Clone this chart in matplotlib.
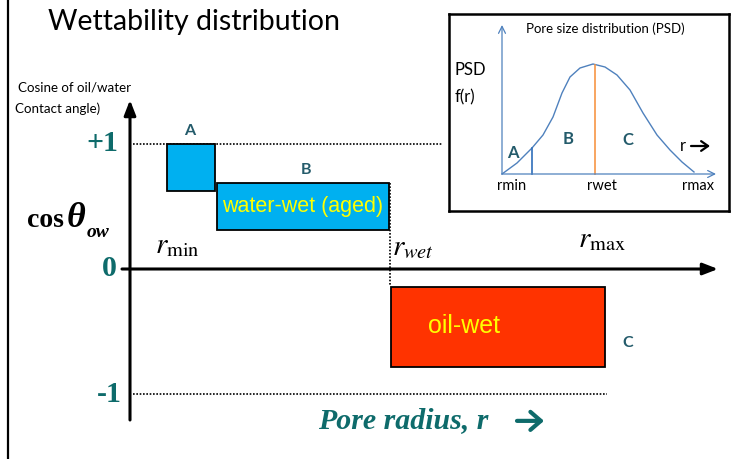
import matplotlib
matplotlib.use("Agg")
import matplotlib.pyplot as plt
from matplotlib.patches import Rectangle
from matplotlib.lines import Line2D

plt.rcParams["mathtext.fontset"] = "stix"

# ── wettability boxes: pore radius range and cos(theta_ow) range ──
box_names  = ["A", "B", "C"]
box_r_lo   = [0.37, 0.87, 2.61]
box_r_hi   = [0.85, 2.59, 4.75]
box_cos_lo = [0.62, 0.31, -0.78]
box_cos_hi = [1.00, 0.69, -0.14]
box_texts  = ["", "water-wet (aged)", "oil-wet"]

y_ticks       = [1, 0, -1]
y_tick_labels = ["+1", "0", "-1"]

r_wet = 2.60

# ── pore size distribution (inset) ──
psd_r = [0.00, 0.15, 0.30, 0.41, 0.51, 0.60, 0.68, 0.78, 0.91,
         1.03, 1.15, 1.28, 1.41, 1.55, 1.68, 1.80, 1.92]
psd_f = [0.00, 0.11, 0.26, 0.39, 0.57, 0.81, 0.97, 1.06, 1.10,
         1.07, 0.99, 0.84, 0.61, 0.39, 0.24, 0.12, 0.02]
psd_r_ab  = 0.30
psd_r_wet = 0.93
psd_ticks = ["rmin", "rwet", "rmax"]
psd_tick_pos = [0.10, 1.00, 1.96]

W, H = 733, 459
TEAL   = "#0E6B6B"
SLATE  = "#245B6B"
CALIB  = "Lato"


def px(x, y):
    return x / W, 1 - y / H


fig = plt.figure(figsize=(W / 100, H / 100), dpi=100)

# slide border line on the left
fig.add_artist(Line2D([8 / W, 8 / W], [0, 1], color="k", lw=1.6,
                      transform=fig.transFigure))
fig.text(*px(48, 22), "Wettability distribution", fontsize=20.5,
         family=CALIB, ha="left", va="center")
fig.text(*px(18, 88), "Cosine of oil/water", fontsize=9.6, family=CALIB,
         ha="left", va="center")
fig.text(*px(15, 109), "Contact angle)", fontsize=9.6, family=CALIB,
         ha="left", va="center")

# ── main diagram ──
ax = fig.add_axes([122 / W, 1 - 420 / H, 596 / W, 320 / H])
ax.set_xlim(-0.08, 5.88)
ax.set_ylim(-1.208, 1.352)
ax.axis("off")

head = "-|>,head_length=0.9,head_width=0.35"
ax.annotate("", xy=(0, 1.352), xytext=(0, -1.208),
            arrowprops=dict(arrowstyle=head, lw=2.2, color="k",
                            shrinkA=0, shrinkB=0))
ax.annotate("", xy=(5.88, 0), xytext=(-0.08, 0),
            arrowprops=dict(arrowstyle=head, lw=2.2, color="k",
                            shrinkA=0, shrinkB=0))

dots = (0, (1, 1))
ax.plot([0.03, 3.13], [1, 1], color="k", lw=1.2, ls=dots)
ax.plot([0.03, 4.77], [-1, -1], color="k", lw=1.2, ls=dots)
ax.plot([r_wet, r_wet], [box_cos_hi[1], box_cos_hi[2]], color="k", lw=1.2, ls=dots)

colors = ["#00B0F0", "#00B0F0", "#FF3300"]
for lo, hi, clo, chi, c in zip(box_r_lo, box_r_hi, box_cos_lo, box_cos_hi, colors):
    ax.add_patch(Rectangle((lo, clo), hi - lo, chi - clo, facecolor=c,
                           edgecolor="k", lw=1.3, zorder=3))

for name, xv, yv in zip(box_names, [0.60, 1.76, 4.98], [1.10, 0.79, -0.59]):
    ax.text(xv, yv, name, color=SLATE, fontsize=11.5, fontweight="bold",
            family=CALIB, ha="center", va="center")

ax.text((box_r_lo[1] + box_r_hi[1]) / 2, (box_cos_lo[1] + box_cos_hi[1]) / 2,
        box_texts[1], color="#FFFF00", fontsize=15.5, family="Liberation Sans",
        ha="center", va="center", zorder=4)
ax.text(3.34, (box_cos_lo[2] + box_cos_hi[2]) / 2, box_texts[2],
        color="#FFFF00", fontsize=18, family="Liberation Sans",
        ha="center", va="center", zorder=4)

for yv, lab, xr in zip(y_ticks, y_tick_labels, [-0.12, -0.13, -0.08]):
    ax.text(xr, yv, lab, color=TEAL, fontsize=21.5, fontweight="bold",
            family="Liberation Serif", ha="right", va="center")

ax.text(-1.03, 0.336, "cos", fontsize=20, fontweight="bold",
        family="Liberation Serif", ha="left", va="baseline")
ax.text(-0.63, 0.336, "θ", fontsize=26, fontweight="bold", style="italic",
        family="Liberation Serif", ha="left", va="baseline")
ax.text(-0.43, 0.255, "ow", fontsize=14, fontweight="bold", style="italic",
        family="Liberation Serif", ha="left", va="baseline")

ax.text(0.25, 0.128, r"$r_{\mathrm{min}}$", fontsize=21, ha="left", va="baseline")
ax.text(2.62, 0.11, r"$r_{wet}$", fontsize=21, ha="left", va="baseline")
ax.text(4.48, 0.176, r"$r_{\mathrm{max}}$", fontsize=21, ha="left", va="baseline")

ax.text(1.88, -1.27, "Pore radius, r", color=TEAL, fontsize=21.5,
        fontweight="bold", style="italic", family="Liberation Serif",
        ha="left", va="baseline")
ax.annotate("", xy=(4.14, -1.215), xytext=(3.87, -1.215), annotation_clip=False,
            arrowprops=dict(arrowstyle="->,head_length=0.75,head_width=0.65",
                            lw=3.0, color=TEAL, shrinkA=0, shrinkB=0))

# ── inset: pore size distribution ──
ins = fig.add_axes([449 / W, 1 - 211 / H, 280 / W, 197 / H])
ins.set_xlim(-0.53, 2.27)
ins.set_ylim(-0.37, 1.60)
ins.set_xticks([])
ins.set_yticks([])
for s in ins.spines.values():
    s.set_linewidth(1.8)

BLUE = "#4F81BD"
open_head = "->,head_length=0.5,head_width=0.25"
ins.annotate("", xy=(0, 1.49), xytext=(0, 0),
             arrowprops=dict(arrowstyle=open_head, lw=0.9, color=BLUE,
                             shrinkA=0, shrinkB=0))
ins.annotate("", xy=(2.14, 0), xytext=(0, 0),
             arrowprops=dict(arrowstyle=open_head, lw=0.9, color=BLUE,
                             shrinkA=0, shrinkB=0))
ins.plot(psd_r, psd_f, color=BLUE, lw=1.0)
ins.plot([psd_r_ab, psd_r_ab], [0, 0.26], color="#2F6EBA", lw=1.2)
ins.plot([psd_r_wet, psd_r_wet], [0, 1.09], color="#F79646", lw=1.2)

ins.text(1.03, 1.45, "Pore size distribution (PSD)", fontsize=9.5, family=CALIB,
         ha="center", va="center")
ins.text(-0.47, 1.04, "PSD", fontsize=12, family=CALIB, ha="left", va="center")
ins.text(-0.47, 0.77, "f(r)", fontsize=12, family=CALIB, ha="left", va="center")
for lab, xv, yv in zip(["A", "B", "C"], [0.11, 0.66, 1.26], [0.21, 0.35, 0.34]):
    ins.text(xv, yv, lab, color=SLATE, fontsize=12, fontweight="bold",
             family=CALIB, ha="center", va="center")
ins.text(1.78, 0.28, "r", fontsize=12, family=CALIB, ha="left", va="center")
ins.annotate("", xy=(2.08, 0.28), xytext=(1.89, 0.28),
             arrowprops=dict(arrowstyle="->,head_length=0.5,head_width=0.35",
                             lw=1.6, color="k", shrinkA=0, shrinkB=0))
for lab, xv in zip(psd_ticks, psd_tick_pos):
    ins.text(xv, -0.12, lab, fontsize=10.5, family=CALIB, ha="center", va="center")

fig.savefig("out.png", dpi=100)
